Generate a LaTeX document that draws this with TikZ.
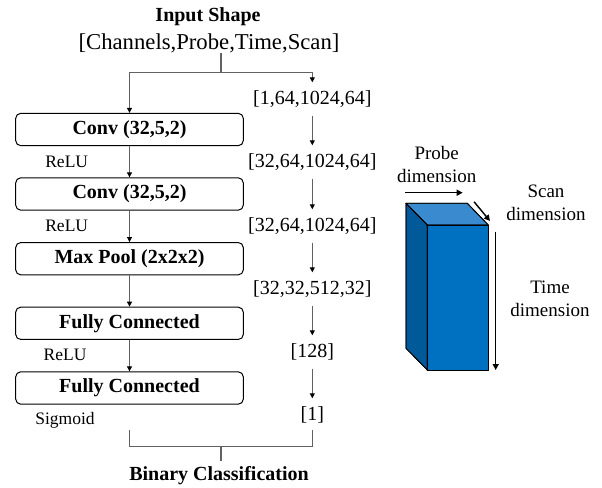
\documentclass[tikz,border=0pt]{standalone}
\usepackage{fontspec}
\setmainfont{Liberation Serif}
\usetikzlibrary{arrows.meta}
\begin{document}
\begin{tikzpicture}[x=1pt,y=-1pt,
  layer/.style={draw=black, line width=1pt, rounded corners=5pt,
    minimum width=227.6pt, minimum height=32.3pt, inner sep=0pt,
    font=\fontsize{20}{24}\selectfont\bfseries},
  dimlabel/.style={inner sep=0pt, text height=14pt, text depth=4pt,
    inner ysep=7.5pt, font=\fontsize{20}{24}\selectfont},
  actlabel/.style={inner sep=0pt, font=\fontsize{17.5}{20}\selectfont},
  axislabel/.style={inner sep=0pt, align=center,
    font=\fontsize{19}{23}\selectfont},
  conn/.style={draw=black!62, line width=0.9pt},
  flow/.style={conn, -{Triangle[length=5pt,width=5pt,color=black]}},
  axisarrow/.style={draw=black, line width=1.4pt,
    -{Triangle[length=6pt,width=6pt]}},
  face/.style={draw=black, line width=0.8pt, line join=round},
]
\useasboundingbox (0,0) rectangle (602,487);

% input description
\node[inner sep=0pt, font=\fontsize{20}{24}\selectfont\bfseries] (title) at (208,17) {Input Shape};
\node[inner sep=0pt, font=\fontsize{22.7}{26}\selectfont] (inshape) at (209,43) {[Channels,Probe,Time,Scan]};
\coordinate (split) at (221,72);

% network layers
\node[layer] (c1) at (129.5,129.5) {Conv (32,5,2)};
\node[layer] (c2) at (129.5,194) {Conv (32,5,2)};
\node[layer] (mp) at (129.5,258.7) {Max Pool (2x2x2)};
\node[layer] (f1) at (129.5,323.3) {Fully Connected};
\node[layer] (f2) at (129.5,388) {Fully Connected};

% activations
\node[actlabel] (a1) at (66.7,162.3) {ReLU};
\node[actlabel] (a2) at (66.7,226) {ReLU};
\node[actlabel] (a3) at (65,355) {ReLU};
\node[actlabel] (a4) at (65,420) {Sigmoid};

% tensor shapes
\node[dimlabel] (s0) at (312.3,99) {[1,64,1024,64]};
\node[dimlabel] (s1) at (312.3,162) {[32,64,1024,64]};
\node[dimlabel] (s2) at (312.3,226) {[32,64,1024,64]};
\node[dimlabel] (s3) at (312.3,289) {[32,32,512,32]};
\node[dimlabel] (s4) at (312.3,352) {[128]};
\node[dimlabel] (s5) at (312.3,415) {[1]};

% split of the input into the two columns
\draw[conn, line width=1.2pt] (inshape.south -| split) -- (split);
\draw[conn] (c1.north |- split) -- (s0.north |- split);
\draw[flow] (c1.north |- split) -- (c1.north);
\draw[flow] (s0.north |- split) -- (s0.north);

% layer chain
\draw[flow] (c1) -- (c2);
\draw[flow] (c2) -- (mp);
\draw[flow] (mp) -- (f1);
\draw[flow] (f1) -- (f2);

% shape chain
\draw[flow] (s0) -- (s1);
\draw[flow] (s1) -- (s2);
\draw[flow] (s2) -- (s3);
\draw[flow] (s3) -- (s4);
\draw[flow] (s4) -- (s5);

% output bracket
\coordinate (bl) at (129.3,430);
\coordinate (br) at (312.3,430);
\coordinate (merge) at (221,446);
\coordinate (outtop) at (221,461);
\node[inner sep=0pt, font=\fontsize{20}{24}\selectfont\bfseries] (out) at (219,476) {Binary Classification};
\draw[conn] (bl) -- (bl |- merge) -- (br |- merge) -- (br);
\draw[conn, line width=1.2pt] (merge) -- (outtop);

% input volume
\coordinate (A) at (406,203.3);
\coordinate (B) at (467.3,203.3);
\coordinate (C) at (427.3,225);
\coordinate (D) at (488.3,225);
\coordinate (E) at (427.3,370);
\coordinate (F) at (488.3,370);
\coordinate (G) at (406,348.3);
\fill[face, fill={rgb,255:red,0;green,90;blue,154}] (A) -- (C) -- (E) -- (G) -- cycle;
\fill[face, fill={rgb,255:red,58;green,138;blue,207}] (A) -- (B) -- (D) -- (C) -- cycle;
\fill[face, fill={rgb,255:red,0;green,112;blue,192}] (C) -- (D) -- (F) -- (E) -- cycle;
\draw[face] (A) -- (C) -- (E) -- (G) -- cycle;
\draw[face] (A) -- (B) -- (D) -- (C) -- cycle;
\draw[face] (C) -- (D) -- (F) -- (E) -- cycle;

% axis arrows and labels
\coordinate (p0) at (405,192.7);
\coordinate (p1) at (462.7,192.7);
\coordinate (q0) at (474,201.7);
\coordinate (q1) at (490,221);
\coordinate (t0) at (495.7,231.7);
\coordinate (t1) at (495.7,370);
\draw[axisarrow] (p0) -- (p1);
\draw[axisarrow] (q0) -- (q1);
\draw[axisarrow] (t0) -- (t1);
\node[axislabel] (probe) at (436.7,164.7) {Probe\\dimension};
\node[axislabel] (scan) at (546,203) {Scan\\dimension};
\node[axislabel] (time) at (550,299) {Time\\dimension};
\end{tikzpicture}
\end{document}
